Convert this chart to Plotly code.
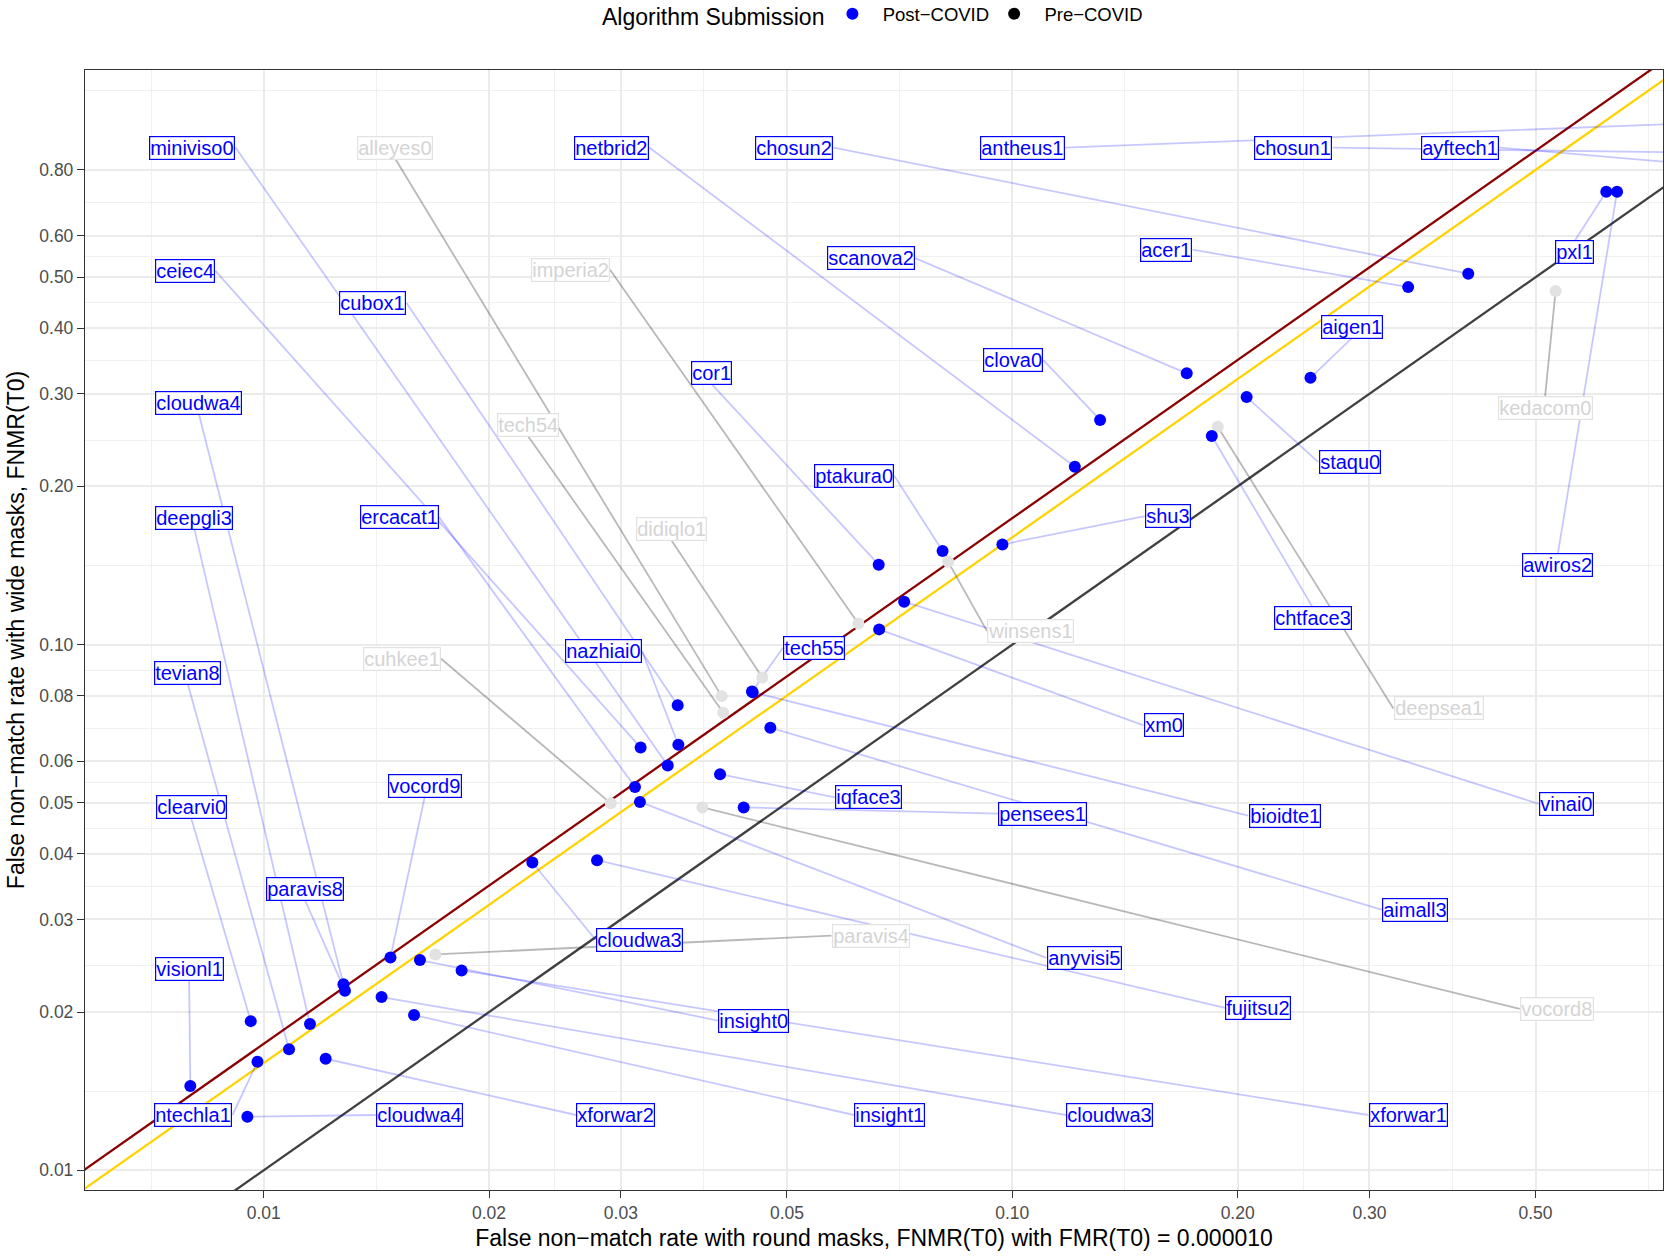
import numpy as np
import plotly.graph_objects as go

# ---------------- data ----------------
post_names = ["miniviso0", "netbrid2", "chosun2", "antheus1", "chosun1", "ayftech1",
              "ceiec4", "cubox1", "scanova2", "acer1", "pxl1", "aigen1", "cloudwa4",
              "cor1", "clova0", "staqu0", "ptakura0", "deepgli3", "ercacat1", "shu3",
              "awiros2", "chtface3", "tevian8", "nazhiai0", "tech55", "xm0", "vocord9",
              "iqface3", "pensees1", "bioidte1", "vinai0", "clearvi0", "paravis8",
              "aimall3", "cloudwa3", "anyvisi5", "visionl1", "fujitsu2", "insight0",
              "ntechla1", "cloudwa4", "xforwar2", "insight1", "cloudwa3", "xforwar1"]
post_round = [0.03465, 0.1212, 0.4065, 0.95, 0.95, 0.90,
              0.03188, 0.03573, 0.1710, 0.3379, 0.6215, 0.2502, 0.01278,
              0.0663, 0.1310, 0.2056, 0.0807, 0.01153, 0.03133, 0.0970,
              0.6424, 0.1847, 0.01081, 0.03580, 0.0449, 0.0664, 0.01477,
              0.0407, 0.04377, 0.0450, 0.0717, 0.00961, 0.01284,
              0.04751, 0.02285, 0.03181, 0.00798, 0.02788, 0.01617,
              0.00981, 0.00951, 0.01210, 0.01588, 0.01437, 0.01838]
post_wide = [0.0589, 0.2179, 0.5078, 0.99, 0.86, 0.81,
             0.0637, 0.0767, 0.3281, 0.4787, 0.7271, 0.3218, 0.02258,
             0.1419, 0.2675, 0.2957, 0.1507, 0.01897, 0.0536, 0.1551,
             0.7271, 0.2493, 0.0170, 0.0645, 0.0814, 0.1069, 0.02541,
             0.0567, 0.0490, 0.0812, 0.1207, 0.01922, 0.02196,
             0.0695, 0.0385, 0.0502, 0.01446, 0.0389, 0.02512,
             0.01609, 0.01264, 0.0163, 0.01974, 0.02136, 0.0240]
# label anchor positions (data units)
post_label_x = [0.00803, 0.02916, 0.05113, 0.1032, 0.2374, 0.3965,
                0.00785, 0.01398, 0.06471, 0.1604, 0.5641, 0.2841, 0.00819,
                0.03964, 0.1002, 0.2822, 0.06142, 0.00808, 0.01517, 0.1615,
                0.5354, 0.2518, 0.00792, 0.02841, 0.05441, 0.1594, 0.01641,
                0.06429, 0.1098, 0.2312, 0.5495, 0.00800, 0.01135,
                0.3456, 0.03175, 0.1247, 0.00795, 0.2131, 0.04517,
                0.00805, 0.01615, 0.02954, 0.06863, 0.1349, 0.3379]
post_label_y = [0.8822, 0.8822, 0.8822, 0.8822, 0.8822, 0.8822,
                0.5142, 0.4472, 0.5437, 0.5642, 0.5590, 0.4018, 0.2887,
                0.3289, 0.3478, 0.2226, 0.2095, 0.1740, 0.1748, 0.1756,
                0.1417, 0.1123, 0.0882, 0.0973, 0.0986, 0.0702, 0.0539,
                0.0512, 0.0477, 0.0473, 0.0498, 0.0491, 0.0343,
                0.0313, 0.02745, 0.02535, 0.02419, 0.02037, 0.01927,
                0.01274, 0.01274, 0.01274, 0.01274, 0.01274, 0.01274]

pre_names = ["alleyes0", "imperia2", "tech54", "didiqlo1", "cuhkee1",
             "winsens1", "paravis4", "deepsea1", "kedacom0", "vocord8"]
pre_round = [0.04090, 0.06228, 0.04111, 0.04636, 0.02908,
             0.0821, 0.01696, 0.1881, 0.5318, 0.03855]
pre_wide = [0.0798, 0.1097, 0.0742, 0.0866, 0.0499,
            0.1437, 0.02574, 0.2597, 0.4706, 0.0490]
pre_label_x = [0.01498, 0.02567, 0.02253, 0.03501, 0.01528,
               0.1056, 0.06471, 0.3713, 0.5148, 0.5337]
pre_label_y = [0.8822, 0.5166, 0.2619, 0.1661, 0.0941,
               0.1062, 0.02796, 0.0756, 0.2821, 0.02028]

# reference lines y = k * x
ref_factors = [1.74, 1.60, 1.00]
ref_colors = ["#8B0000", "#FFD200", "#404040"]

x_ticks = [0.01, 0.02, 0.03, 0.05, 0.10, 0.20, 0.30, 0.50]
y_ticks = [0.01, 0.02, 0.03, 0.04, 0.05, 0.06, 0.08, 0.10, 0.20, 0.30, 0.40, 0.50, 0.60, 0.80]

# ---------------- figure ----------------
FONT = "Liberation Sans, Arial, Helvetica, sans-serif"
W, H = 1665, 1258
ML, MR, MT, MB = 85, 2, 70, 68
PW, PH = W - ML - MR, H - MT - MB
xr = [-2.2387, -0.1308]
yr = [-2.0375, 0.0931]
LABEL_SIZE = 20

# approximate Arial advance widths (em) to size the label boxes for segment attachment
CW = {c: 0.556 for c in "abdeghnopqu0123456789"}
CW.update({"c": 0.5, "f": 0.278, "i": 0.222, "j": 0.222, "k": 0.5, "l": 0.222, "m": 0.833,
           "r": 0.333, "s": 0.5, "t": 0.278, "v": 0.5, "w": 0.722, "x": 0.5, "y": 0.5, "z": 0.5})


def to_npc(v, r):
    return (np.log10(v) - r[0]) / (r[1] - r[0])


def from_npc(n, r):
    return 10 ** (r[0] + n * (r[1] - r[0]))


def attach(name, lx, ly, px, py):
    """edge midpoint of the label box nearest to the point (in panel npc units)"""
    hw = (sum(CW.get(c, 0.556) for c in name) * LABEL_SIZE / 2 + 1.5) / PW
    hh = 11.0 / PH
    cx, cy = to_npc(lx, xr), to_npc(ly, yr)
    qx, qy = to_npc(px, xr), to_npc(py, yr)
    cands = [(cx - hw, cy), (cx + hw, cy), (cx, cy - hh), (cx, cy + hh)]
    best = min(cands, key=lambda p: (p[0] - qx) ** 2 + (p[1] - qy) ** 2)
    return from_npc(best[0], xr), from_npc(best[1], yr)


def segs(names, lx, ly, px, py):
    sx, sy = [], []
    for n, a, b, c, d in zip(names, lx, ly, px, py):
        s0, s1 = attach(n, a, b, c, d)
        sx += [s0, c, None]
        sy += [s1, d, None]
    return sx, sy


fig = go.Figure()

# reference lines
xx = [10 ** (xr[0] - 0.2), 10 ** (xr[1] + 0.2)]
for k, c in zip(ref_factors, ref_colors):
    fig.add_trace(go.Scatter(x=xx, y=[k * v for v in xx], mode="lines",
                             line=dict(color=c, width=2.3), showlegend=False,
                             hoverinfo="skip"))

sx, sy = segs(pre_names, pre_label_x, pre_label_y, pre_round, pre_wide)
fig.add_trace(go.Scatter(x=sx, y=sy, mode="lines", line=dict(color="rgba(0,0,0,0.28)", width=1.8),
                         showlegend=False, hoverinfo="skip"))
sx, sy = segs(post_names, post_label_x, post_label_y, post_round, post_wide)
fig.add_trace(go.Scatter(x=sx, y=sy, mode="lines", line=dict(color="rgba(0,0,255,0.22)", width=1.8),
                         showlegend=False, hoverinfo="skip"))

fig.add_trace(go.Scatter(x=pre_round, y=pre_wide, mode="markers", text=pre_names,
                         marker=dict(color="#e2e2e2", size=12), showlegend=False))
fig.add_trace(go.Scatter(x=post_round, y=post_wide, mode="markers", text=post_names,
                         marker=dict(color="#0000FF", size=12), showlegend=False))

# legend entries
fig.add_trace(go.Scatter(x=[None], y=[None], mode="markers", name="\u00a0\u00a0Post\u2212COVID",
                         marker=dict(color="#0000FF", size=12)))
fig.add_trace(go.Scatter(x=[None], y=[None], mode="markers", name="\u00a0\u00a0Pre\u2212COVID",
                         marker=dict(color="#000000", size=12)))

annotations = []
for n, a, b in zip(post_names, post_label_x, post_label_y):
    annotations.append(dict(x=np.log10(a), y=np.log10(b), xref="x", yref="y", text=n,
                            showarrow=False, font=dict(family=FONT, size=LABEL_SIZE, color="#0000FF"),
                            bgcolor="white", bordercolor="#0000FF", borderwidth=1.2, borderpad=0))
for n, a, b in zip(pre_names, pre_label_x, pre_label_y):
    annotations.append(dict(x=np.log10(a), y=np.log10(b), xref="x", yref="y", text=n,
                            showarrow=False, font=dict(family=FONT, size=LABEL_SIZE, color="#d4d4d4"),
                            bgcolor="white", bordercolor="#e2e2e2", borderwidth=1.2, borderpad=0))


def minor_breaks(ticks):
    # midpoints between majors in log space, extended one step (first spacing) at both ends
    lt = list(np.log10(ticks))
    bd = lt[1] - lt[0]
    lt = [lt[0] - bd] + lt + [lt[-1] + bd]
    return [10 ** ((a + b) / 2) for a, b in zip(lt[:-1], lt[1:])]


x_minor = minor_breaks(x_ticks)
y_minor = minor_breaks(y_ticks)

axis_common = dict(type="log", ticks="outside", ticklen=7, tickwidth=1.1, tickcolor="#333333",
                   tickfont=dict(family=FONT, size=17.5, color="#4d4d4d"),
                   showgrid=True, gridcolor="#ebebeb", gridwidth=2,
                   showline=True, mirror=True, linecolor="#333333", linewidth=1.3,
                   zeroline=False)

fig.update_xaxes(range=xr, tickvals=x_ticks, ticktext=["%.2f" % v for v in x_ticks],
                 minor=dict(tickvals=x_minor, showgrid=True, gridcolor="#f0f0f0", gridwidth=1, ticks=""),
                 title=dict(text="False non\u2212match rate with round masks, FNMR(T0) with FMR(T0) = 0.000010",
                            font=dict(family=FONT, size=23, color="black"), standoff=7),
                 **axis_common)
fig.update_yaxes(range=yr, tickvals=y_ticks, ticktext=["%.2f" % v for v in y_ticks],
                 minor=dict(tickvals=y_minor, showgrid=True, gridcolor="#f0f0f0", gridwidth=1, ticks=""),
                 title=dict(text="False non\u2212match rate with wide masks, FNMR(T0)",
                            font=dict(family=FONT, size=23, color="black"), standoff=8),
                 **axis_common)

fig.update_layout(
    width=W, height=H,
    margin=dict(l=ML, r=MR, t=MT, b=MB, autoexpand=False),
    plot_bgcolor="white", paper_bgcolor="white",
    font=dict(family=FONT, color="black"),
    annotations=annotations,
    showlegend=True,
    legend=dict(orientation="h", x=0.5, xanchor="center", y=1.049, yanchor="middle",
                title=dict(text="Algorithm Submission", font=dict(family=FONT, size=23, color="black")),
                font=dict(family=FONT, size=18.5, color="black"), itemsizing="constant",
                bgcolor="rgba(0,0,0,0)"),
)

fig.write_html("out.html")
